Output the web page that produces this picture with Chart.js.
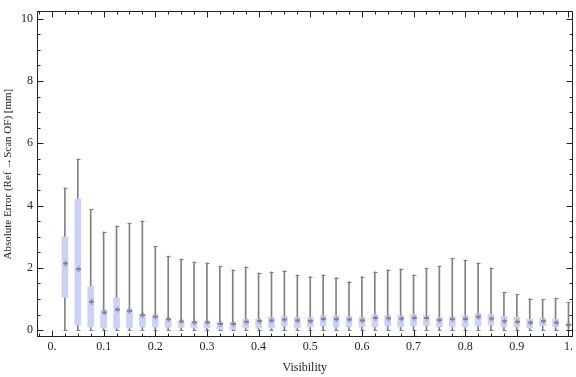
<!DOCTYPE html>
<html>
<head>
<meta charset="utf-8">
<script src="https://cdn.jsdelivr.net/npm/chart.js@4.4.0/dist/chart.umd.min.js"></script>
<style>
    html, body { margin: 0; padding: 0; background: #fff; }
    #chart { display: block; }
</style>
</head>
<body>
<canvas id="chart" width="576" height="377"></canvas>
<script>
// one box per visibility bin
const visibility = [0.025, 0.05, 0.075, 0.1, 0.125, 0.15, 0.175, 0.2, 0.225, 0.25,
    0.275, 0.3, 0.325, 0.35, 0.375, 0.4, 0.425, 0.45, 0.475, 0.5,
    0.525, 0.55, 0.575, 0.6, 0.625, 0.65, 0.675, 0.7, 0.725, 0.75,
    0.775, 0.8, 0.825, 0.85, 0.875, 0.9, 0.925, 0.95, 0.975, 1.0];

const whiskerLow = [0, 0, 0, 0, 0, 0, 0, 0, 0, 0,
    0, 0, 0, 0, 0, 0, 0, 0, 0, 0,
    0, 0, 0, 0, 0, 0, 0, 0, 0, 0,
    0, 0, 0, 0, 0, 0, 0, 0, 0, 0];

const lowerQuartile = [1.05, 0.17, 0.10, 0.07, 0.07, 0.07, 0.10, 0.10, 0.09, 0.09,
    0.07, 0.07, 0.03, 0.03, 0.07, 0.07, 0.07, 0.14, 0.07, 0.10,
    0.14, 0.10, 0.10, 0.10, 0.10, 0.14, 0.10, 0.14, 0.14, 0.10,
    0.10, 0.10, 0.14, 0.17, 0.10, 0.10, 0.07, 0.14, 0.10, 0.14];

const medians = [2.14, 1.96, 0.91, 0.57, 0.66, 0.62, 0.48, 0.43, 0.35, 0.28,
    0.25, 0.25, 0.20, 0.20, 0.27, 0.29, 0.31, 0.34, 0.31, 0.29,
    0.36, 0.35, 0.34, 0.31, 0.39, 0.38, 0.37, 0.39, 0.39, 0.32,
    0.35, 0.36, 0.43, 0.37, 0.29, 0.27, 0.24, 0.29, 0.24, 0.17];

const upperQuartile = [3.00, 4.21, 1.40, 0.63, 1.04, 0.68, 0.51, 0.50, 0.38, 0.29,
    0.28, 0.28, 0.25, 0.25, 0.35, 0.35, 0.41, 0.44, 0.41, 0.41,
    0.47, 0.47, 0.44, 0.41, 0.50, 0.47, 0.47, 0.50, 0.47, 0.41,
    0.41, 0.47, 0.53, 0.50, 0.44, 0.41, 0.35, 0.38, 0.35, 0.20];

const whiskerHigh = [4.57, 5.50, 3.88, 3.16, 3.35, 3.44, 3.51, 2.69, 2.38, 2.28,
    2.19, 2.16, 2.06, 1.94, 2.03, 1.84, 1.87, 1.91, 1.78, 1.72,
    1.78, 1.69, 1.56, 1.72, 1.87, 1.94, 1.97, 1.78, 1.99, 2.06,
    2.31, 2.25, 2.16, 2.00, 1.21, 1.15, 1.01, 0.99, 1.03, 0.90];

const xTickValues = [0, 0.1, 0.2, 0.3, 0.4, 0.5, 0.6, 0.7, 0.8, 0.9, 1];
const xTickLabels = ['0.', '0.1', '0.2', '0.3', '0.4', '0.5', '0.6', '0.7', '0.8', '0.9', '1.'];
const yTickValues = [0, 2, 4, 6, 8, 10];
const yTickLabels = ['0', '2', '4', '6', '8', '10'];

const FONT = { family: '"Liberation Serif", "DejaVu Serif", serif', size: 12 };
const BOX_WIDTH = 6;

// minor tick positions for the frame
const xMinor = [];
for (let i = -1; i <= 40; i++) xMinor.push(i * 0.025);
const yMinor = [];
for (let i = 0; i <= 20; i++) yMinor.push(i * 0.5);

// caps on whisker ends and median marks
const boxExtras = {
    id: 'boxExtras',
    afterDatasetsDraw(chart) {
        const { ctx, scales: { x, y } } = chart;
        ctx.save();
        visibility.forEach((v, i) => {
            const px = Math.round(x.getPixelForValue(v)) + 0.5;
            ctx.strokeStyle = 'rgb(128,128,128)';
            ctx.lineWidth = 1;
            [whiskerLow[i], whiskerHigh[i]].forEach(val => {
                const py = Math.round(y.getPixelForValue(val)) + 0.5;
                ctx.beginPath();
                ctx.moveTo(px - 2, py);
                ctx.lineTo(px + 2, py);
                ctx.stroke();
            });
            const my = y.getPixelForValue(medians[i]);
            ctx.fillStyle = 'rgba(110,110,130,0.75)';
            ctx.fillRect(px - 2.5, my - 1, 5, 2);
            ctx.fillStyle = 'rgba(110,110,130,0.45)';
            ctx.fillRect(px - 1, my - 3, 2, 6);
        });
        ctx.restore();
    }
};

// frame with inward ticks on all four sides
const frame = {
    id: 'frame',
    afterDraw(chart) {
        const { ctx, chartArea: a, scales: { x, y } } = chart;
        const L = Math.round(a.left) + 0.5, R = Math.round(a.right) - 0.5;
        const T = Math.round(a.top) + 0.5, B = Math.round(a.bottom) - 0.5;
        ctx.save();
        ctx.strokeStyle = '#222';
        ctx.lineWidth = 1;
        ctx.strokeRect(L, T, R - L, B - T);
        ctx.beginPath();
        const xTick = (v, len) => {
            const px = Math.round(x.getPixelForValue(v)) + 0.5;
            if (px <= L || px >= R) return;
            ctx.moveTo(px, B); ctx.lineTo(px, B - len);
            ctx.moveTo(px, T); ctx.lineTo(px, T + len);
        };
        const yTick = (v, len) => {
            const py = Math.round(y.getPixelForValue(v)) + 0.5;
            if (py <= T || py >= B) return;
            ctx.moveTo(L, py); ctx.lineTo(L + len, py);
            ctx.moveTo(R, py); ctx.lineTo(R - len, py);
        };
        xMinor.forEach(v => xTick(v, 3));
        xTickValues.forEach(v => xTick(v, 6));
        yMinor.forEach(v => yTick(v, 3));
        yTickValues.forEach(v => yTick(v, 6));
        ctx.stroke();
        ctx.restore();
    }
};

new Chart(document.getElementById('chart'), {
    type: 'bar',
    data: {
        datasets: [
            {
                label: 'box',
                data: visibility.map((v, i) => ({ x: v, y: [lowerQuartile[i], upperQuartile[i]] })),
                backgroundColor: 'rgb(203,210,246)',
                borderWidth: 0,
                barThickness: BOX_WIDTH,
                grouped: false,
            },
            {
                label: 'whisker',
                data: visibility.map((v, i) => ({ x: v, y: [whiskerLow[i], whiskerHigh[i]] })),
                backgroundColor: 'rgb(128,128,128)',
                borderWidth: 0,
                barThickness: 1,
                grouped: false,
            },
        ],
    },
    options: {
        responsive: false,
        animation: false,
        devicePixelRatio: 1,
        layout: { padding: { top: 4, right: 2, left: 0, bottom: 0 } },
        plugins: { legend: { display: false }, tooltip: { enabled: false } },
        scales: {
            x: {
                type: 'linear',
                min: -0.029,
                max: 1.008,
                offset: false,
                grid: { display: false, drawTicks: false },
                border: { display: false },
                afterBuildTicks: s => { s.ticks = xTickValues.map(v => ({ value: v })); },
                afterFit: s => { s.height = 40; },
                ticks: {
                    autoSkip: false,
                    maxRotation: 0,
                    padding: 3,
                    color: '#222',
                    font: FONT,
                    callback: (val, i) => xTickLabels[i],
                },
                title: {
                    display: true,
                    text: 'Visibility',
                    color: '#222',
                    font: FONT,
                    padding: { top: 0, bottom: 2 },
                },
            },
            y: {
                type: 'linear',
                min: -0.22,
                max: 10.24,
                grid: { display: false, drawTicks: false },
                border: { display: false },
                afterBuildTicks: s => { s.ticks = yTickValues.map(v => ({ value: v })); },
                afterFit: s => { s.width = 37; },
                ticks: {
                    padding: 4,
                    color: '#222',
                    font: FONT,
                    callback: (val, i) => yTickLabels[i],
                },
                title: {
                    display: true,
                    text: 'Absolute Error (Ref →Scan OF) [mm]',
                    color: '#222',
                    font: { family: FONT.family, size: 11 },
                    padding: { top: 2, bottom: 0 },
                },
            },
        },
    },
    plugins: [boxExtras, frame],
});
</script>
</body>
</html>
